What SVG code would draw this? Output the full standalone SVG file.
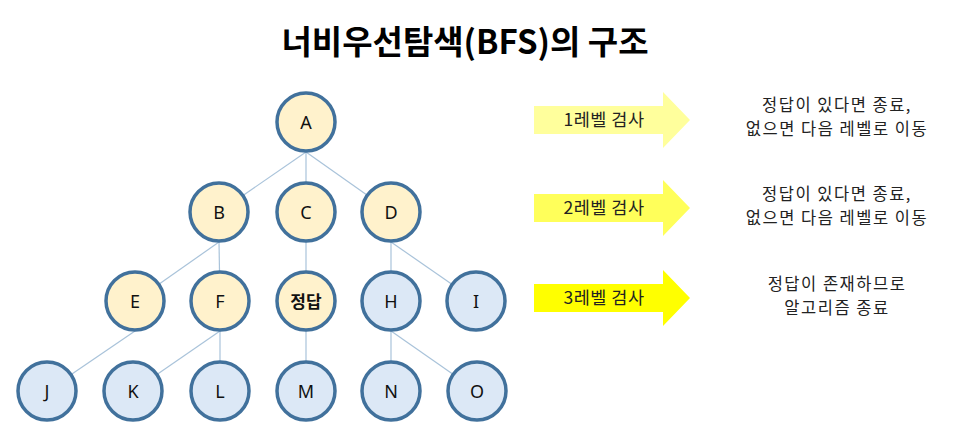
<svg xmlns="http://www.w3.org/2000/svg" width="967" height="441" viewBox="0 0 967 441">
<style>
.edge{stroke:#a9c3da;stroke-width:1.2;fill:none}
.n circle{stroke:#41719c;stroke-width:3.5}
.y circle{fill:#fff2cc}
.b circle{fill:#dce8f6}
.n text{font-family:"Noto Sans","Noto Sans CJK KR",sans-serif;font-size:18px;fill:#111;text-anchor:middle;dominant-baseline:central}
.lbl{font-family:"Noto Sans CJK KR","Noto Sans",sans-serif;font-size:17.5px;letter-spacing:0.5px;fill:#222;text-anchor:middle}
.note{font-family:"Noto Sans CJK KR","Noto Sans",sans-serif;font-size:16.5px;letter-spacing:1.5px;fill:#222;text-anchor:middle}
.title{font-family:"Noto Sans CJK KR","Noto Sans",sans-serif;font-size:33px;font-weight:bold;fill:#000;text-anchor:middle}
</style>
<rect width="967" height="441" fill="#fff"/>
<text class="title" x="465" y="54">너비우선탐색(BFS)의 구조</text>
<g id="connectors">
<line class="edge" x1="306" y1="152" x2="219" y2="212"/>
<line class="edge" x1="306" y1="152" x2="306" y2="212"/>
<line class="edge" x1="306" y1="152" x2="391" y2="212"/>
<line class="edge" x1="219" y1="242" x2="135" y2="301"/>
<line class="edge" x1="219" y1="242" x2="220" y2="301"/>
<line class="edge" x1="306" y1="242" x2="306" y2="301"/>
<line class="edge" x1="391" y1="242" x2="391" y2="301"/>
<line class="edge" x1="391" y1="242" x2="476" y2="301"/>
<line class="edge" x1="135" y1="331" x2="47" y2="391"/>
<line class="edge" x1="220" y1="331" x2="133" y2="391"/>
<line class="edge" x1="220" y1="331" x2="220" y2="391"/>
<line class="edge" x1="306" y1="331" x2="306" y2="391"/>
<line class="edge" x1="391" y1="331" x2="391" y2="391"/>
<line class="edge" x1="391" y1="331" x2="477" y2="391"/>
</g>
<g id="A" class="n y"><circle cx="306" cy="122" r="29"/><text x="306" y="122">A</text></g>
<g id="B" class="n y"><circle cx="219" cy="212" r="29"/><text x="219" y="212">B</text></g>
<g id="C" class="n y"><circle cx="306" cy="212" r="29"/><text x="306" y="212">C</text></g>
<g id="D" class="n y"><circle cx="391" cy="212" r="29"/><text x="391" y="212">D</text></g>
<g id="E" class="n y"><circle cx="135" cy="301" r="29"/><text x="135" y="301">E</text></g>
<g id="F" class="n y"><circle cx="220" cy="301" r="29"/><text x="220" y="301">F</text></g>
<g id="answer" class="n y"><circle cx="306" cy="301" r="29"/><text x="306" y="301" style="font-weight:bold;font-size:17px">정답</text></g>
<g id="H" class="n b"><circle cx="391" cy="301" r="29"/><text x="391" y="301">H</text></g>
<g id="I" class="n b"><circle cx="476" cy="301" r="29"/><text x="476" y="301">I</text></g>
<g id="J" class="n b"><circle cx="47" cy="391" r="29"/><text x="47" y="391">J</text></g>
<g id="K" class="n b"><circle cx="133" cy="391" r="29"/><text x="133" y="391">K</text></g>
<g id="L" class="n b"><circle cx="220" cy="391" r="29"/><text x="220" y="391">L</text></g>
<g id="M" class="n b"><circle cx="306" cy="391" r="29"/><text x="306" y="391">M</text></g>
<g id="N" class="n b"><circle cx="391" cy="391" r="29"/><text x="391" y="391">N</text></g>
<g id="O" class="n b"><circle cx="477" cy="391" r="29"/><text x="477" y="391">O</text></g>
<g id="arrow1">
<polygon points="534,106 663,106 663,92 690,120 663,148 663,134 534,134" fill="#ffff9c"/>
<text class="lbl" x="604" y="126">1레벨 검사</text>
</g>
<g id="arrow2">
<polygon points="534,194 663,194 663,180 690,208 663,236 663,222 534,222" fill="#ffff5a"/>
<text class="lbl" x="604" y="214">2레벨 검사</text>
</g>
<g id="arrow3">
<polygon points="534,284 663,284 663,270 690,298 663,326 663,312 534,312" fill="#ffff00"/>
<text class="lbl" x="604" y="304">3레벨 검사</text>
</g>
<g id="note1">
<text class="note" x="837" y="111">정답이 있다면 종료,</text>
<text class="note" x="837" y="135">없으면 다음 레벨로 이동</text>
</g>
<g id="note2">
<text class="note" x="837" y="200">정답이 있다면 종료,</text>
<text class="note" x="837" y="224">없으면 다음 레벨로 이동</text>
</g>
<g id="note3">
<text class="note" x="837" y="290">정답이 존재하므로</text>
<text class="note" x="837" y="314">알고리즘 종료</text>
</g>
</svg>
